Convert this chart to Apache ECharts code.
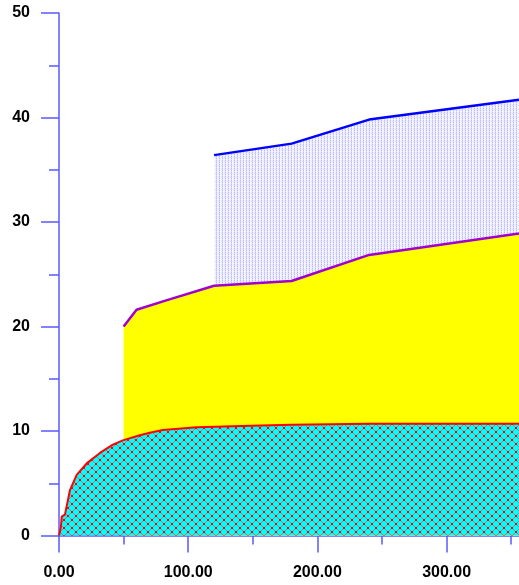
<!DOCTYPE html>
<html>
<head>
<meta charset="utf-8">
<script src="https://cdn.jsdelivr.net/npm/echarts@6/dist/echarts.min.js"></script>
<style>
  html, body { margin: 0; padding: 0; background: #fff; }
  #chart { width: 519px; height: 585px; }
</style>
</head>
<body>
<div id="chart"></div>
<script>
// Lower curve (red, cross-hatched cyan fill)
const lowerX = [0, 1.5, 2.1, 4.6, 8.5, 13.7, 21.4, 31.7, 41.7, 49.4, 62.5, 70.3, 80.3, 106.6, 149, 180, 240, 356];
const lowerY = [0, 0.85, 1.8, 2.0, 4.35, 5.8, 6.9, 7.9, 8.7, 9.1, 9.6, 9.84, 10.1, 10.35, 10.5, 10.6, 10.7, 10.7];

// Middle curve (purple, yellow fill)
const middleX = [50, 60, 83, 120, 180, 240, 356];
const middleY = [20.0, 21.6, 22.5, 23.9, 24.35, 26.85, 28.9];

// Upper curve (blue, dotted fill)
const upperX = [120, 180, 240, 356];
const upperY = [36.4, 37.5, 39.8, 41.7];

// Axis ticks
const xTicks = [0, 100, 200, 300];
const xMinorTicks = [50, 150, 250, 350];
const yTicks = [0, 10, 20, 30, 40, 50];
const xMax = 356;

function pairs(xs, ys) { return xs.map((x, i) => [x, ys[i]]); }

// Cyan fill with a red diagonal cross-hatch
function hatchPattern() {
  const c = document.createElement('canvas');
  c.width = 8; c.height = 8;
  const g = c.getContext('2d');
  g.fillStyle = '#00ffff';
  g.fillRect(0, 0, 8, 8);
  g.fillStyle = '#b07878';
  for (let i = 0; i < 8; i++) {
    g.fillRect(i, i, 1, 1);
    g.fillRect(i, 7 - i, 1, 1);
  }
  g.fillStyle = '#ff0000';
  g.fillRect(3, 3, 2, 2);
  g.fillRect(0, 0, 1, 1);
  g.fillRect(7, 7, 1, 1);
  g.fillRect(0, 7, 1, 1);
  g.fillRect(7, 0, 1, 1);
  return c;
}

// Light lavender fill with fine blue dots in vertical columns
function dotPattern() {
  const c = document.createElement('canvas');
  c.width = 3; c.height = 4;
  const g = c.getContext('2d');
  g.fillStyle = '#f4f4ff';
  g.fillRect(0, 0, 3, 4);
  g.fillStyle = '#b4b4ff';
  g.fillRect(0, 0, 1, 1);
  g.fillRect(0, 2, 1, 1);
  g.fillStyle = '#dcdcff';
  g.fillRect(0, 1, 1, 1);
  g.fillRect(0, 3, 1, 1);
  g.fillRect(2, 1, 1, 1);
  return c;
}

const axisColor = '#5a5aff';
const labelFont = { color: '#000', fontWeight: 'bold', fontSize: 16, fontFamily: 'Liberation Sans, Arial, sans-serif' };

const chart = echarts.init(document.getElementById('chart'), null, { renderer: 'canvas' });
chart.setOption({
  animation: false,
  backgroundColor: '#ffffff',
  grid: { left: 59, right: 0, top: 13, bottom: 49.5, containLabel: false },
  xAxis: [
    {
      type: 'value',
      min: xTicks[0],
      max: xMax,
      interval: xTicks[1] - xTicks[0],
      axisLine: { show: true, onZero: false, lineStyle: { color: axisColor, width: 1.5 } },
      axisTick: { show: true, inside: false, length: 17, customValues: xTicks, lineStyle: { color: axisColor, width: 1.5 } },
      splitLine: { show: false },
      axisLabel: Object.assign({ margin: 29, customValues: xTicks, formatter: v => v.toFixed(2) }, labelFont)
    },
    {
      // short ticks halfway between the labelled ones
      type: 'value',
      position: 'bottom',
      min: xTicks[0],
      max: xMax,
      interval: xTicks[1] - xTicks[0],
      axisLine: { show: false },
      axisTick: { show: true, inside: false, length: 9, customValues: xMinorTicks, lineStyle: { color: axisColor, width: 1.5 } },
      splitLine: { show: false },
      axisLabel: { show: false }
    }
  ],
  yAxis: {
    type: 'value',
    min: yTicks[0],
    max: yTicks[yTicks.length - 1],
    interval: yTicks[1] - yTicks[0],
    axisLine: { show: true, onZero: false, lineStyle: { color: axisColor, width: 1.5 } },
    axisTick: { show: true, inside: false, length: 18, lineStyle: { color: axisColor, width: 1.5 } },
    minorTick: { show: true, splitNumber: 2, length: 10, lineStyle: { color: axisColor, width: 1.5 } },
    splitLine: { show: false },
    axisLabel: Object.assign({ margin: 29 }, labelFont)
  },
  series: [
    {
      type: 'line',
      data: pairs(upperX, upperY),
      symbol: 'none',
      lineStyle: { color: '#0000ff', width: 2.5 },
      areaStyle: { color: { image: dotPattern(), repeat: 'repeat' }, opacity: 1, origin: 'start' },
      z: 1
    },
    {
      type: 'line',
      data: pairs(middleX, middleY),
      symbol: 'none',
      lineStyle: { color: '#a000d0', width: 2.5 },
      areaStyle: { color: '#ffff00', opacity: 1, origin: 'start' },
      z: 2
    },
    {
      type: 'line',
      data: pairs(lowerX, lowerY),
      symbol: 'none',
      lineStyle: { color: '#ff0000', width: 2 },
      areaStyle: { color: { image: hatchPattern(), repeat: 'repeat' }, opacity: 1, origin: 'start' },
      z: 3
    }
  ]
});
</script>
</body>
</html>
